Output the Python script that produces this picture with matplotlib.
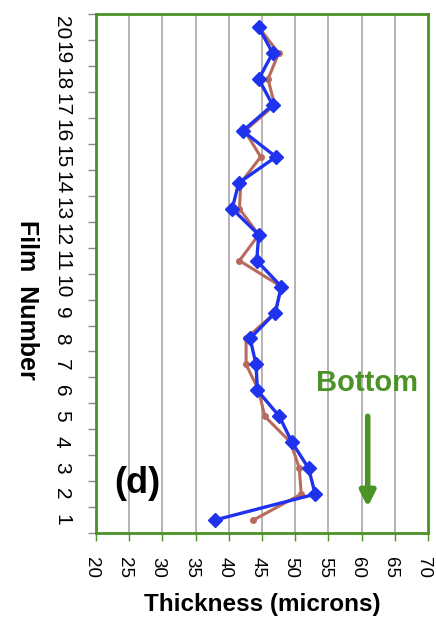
import matplotlib.pyplot as plt
import matplotlib.transforms as mtransforms
import numpy as np

plt.rcParams['font.family'] = ['Liberation Sans', 'DejaVu Sans']

film = np.arange(1, 21)
thick_blue = [37.9, 53.0, 52.0, 49.5, 47.6, 44.3, 44.1, 43.2, 47.0, 47.9,
              44.2, 44.5, 40.5, 41.5, 47.1, 42.1, 46.6, 44.5, 46.6, 44.5]
thick_red = [43.7, 50.9, 50.6, 49.3, 45.4, 44.5, 42.6, 42.6, 47.0, 47.9,
             41.6, 44.5, 41.6, 41.8, 44.8, 42.4, 46.9, 45.9, 47.5, 44.5]
x_ticks = [20, 25, 30, 35, 40, 45, 50, 55, 60, 65, 70]

green = "#4b9227"

fig = plt.figure(figsize=(4.36, 6.18), dpi=100)
ax = fig.add_axes([0.220, 0.1375, 0.762, 0.8395])

# vertical gridlines
for xv in x_ticks[1:-1]:
    ax.axvline(xv, color="#b4b4b4", lw=1.4, zorder=0)

ax.plot(thick_red, film, color="#b86b5c", lw=2.2, marker="o", markersize=4, zorder=2)
ax.plot(thick_blue, film, color="#1f33ee", lw=2.4, marker="D", markersize=7.5, zorder=3)

ax.set_xlim(20, 70)
ax.set_ylim(0.5, 20.5)

ax.set_xticks(x_ticks)
ax.set_xticklabels([str(v) for v in x_ticks], rotation=-90, fontsize=13.5)
ax.tick_params(axis="x", length=6, width=1, color=green, pad=11)
# rotated labels sit a little right of their tick, pull them back
shift = mtransforms.ScaledTranslation(-3 / 72, 0, fig.dpi_scale_trans)
for lab in ax.get_xticklabels():
    lab.set_transform(lab.get_transform() + shift)

# category axis: tick marks at boundaries, labels centred
ax.set_yticks(np.arange(0.5, 21, 1))
ax.set_yticklabels([])
ax.set_yticks(film, minor=True)
ax.set_yticklabels([str(v) for v in film], minor=True, rotation=-90,
                   fontsize=15, va="center")
ax.tick_params(axis="y", which="major", length=6, width=1, color="#8a8a8a")
ax.tick_params(axis="y", which="minor", length=0, pad=18)

for sp in ax.spines.values():
    sp.set_color(green)
    sp.set_linewidth(2)

ax.set_xlabel("Thickness (microns)", fontsize=17.5, fontweight="bold")
ax.xaxis.set_label_coords(0.5, -0.115)
ax.set_ylabel("Film  Number", fontsize=18, fontweight="bold", rotation=-90)
ax.yaxis.set_label_coords(-0.245, 0.45)

ax.text(26.2, 2.4, "(d)", fontsize=26, fontweight="bold", ha="center", va="center")
ax.text(60.8, 6.3, "Bottom", fontsize=21, fontweight="bold", color=green,
        ha="center", va="center")
ax.annotate("", xy=(60.9, 1.5), xytext=(60.9, 5.0),
            arrowprops=dict(arrowstyle="-|>,head_width=0.45,head_length=0.9",
                            color=green, lw=4, shrinkA=0, shrinkB=0))

plt.savefig("out.png", dpi=100)
